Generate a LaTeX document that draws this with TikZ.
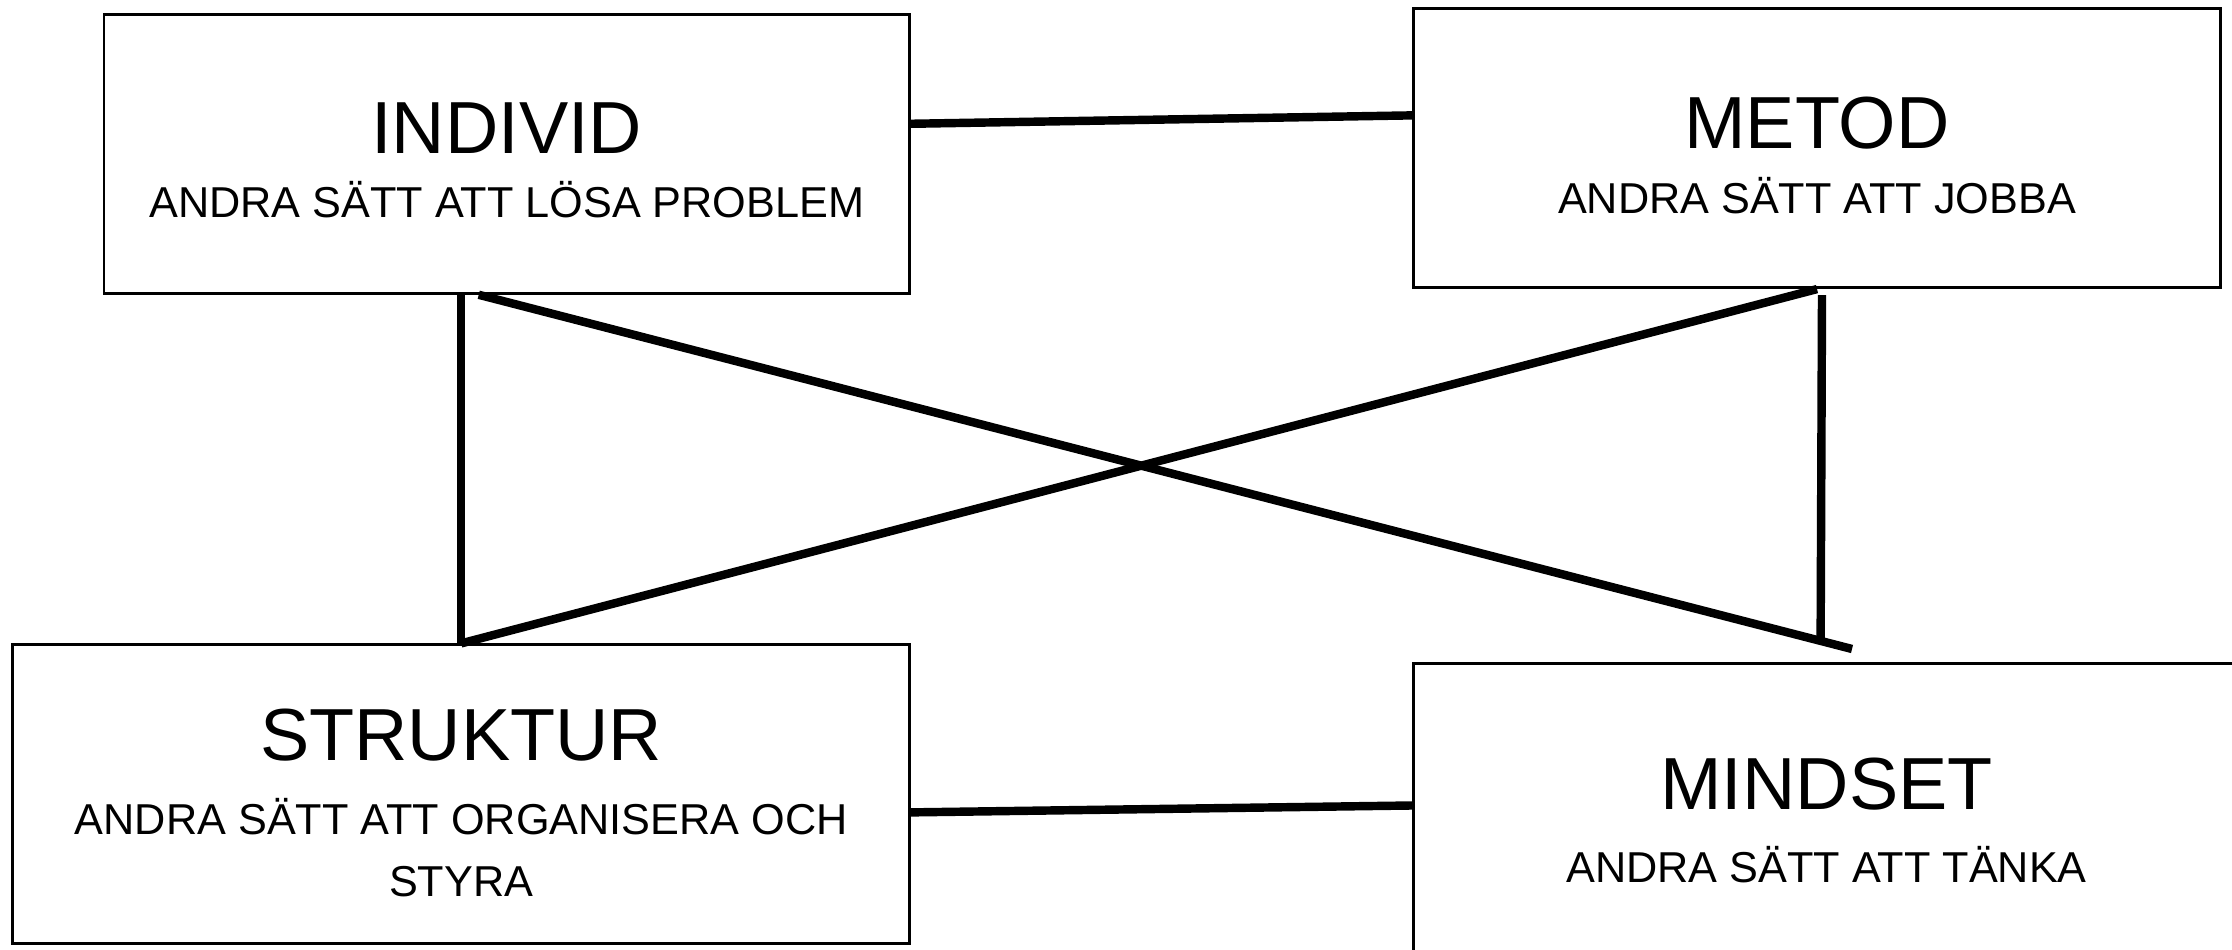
\documentclass[tikz,border=0pt]{standalone}
\usepackage{fontspec}
\setmainfont{Liberation Sans}
\usetikzlibrary{calc}
\begin{document}
\begin{tikzpicture}[line width=0.85pt,
  box/.style={draw, inner sep=0pt, anchor=north west},
  title/.style={anchor=base, font=\fontsize{21}{25}\selectfont},
  sub/.style={anchor=base, font=\fontsize{12.3}{17.8}\selectfont},
  link/.style={line width=2.4pt}]
  \useasboundingbox (0,0) rectangle (22.32,9.5);
  \clip (0,0) rectangle (22.32,9.5);
  % the four boxes
  \node[box, minimum width=8.055cm, minimum height=2.79cm] (individ) at (1.025,9.372) {};
  \node[box, minimum width=8.07cm, minimum height=2.79cm] (metod) at (14.12,9.429) {};
  \node[box, minimum width=8.966cm, minimum height=2.99cm] (struktur) at (0.114,3.066) {};
  \node[box, minimum width=8.26cm, minimum height=3.03cm] (mindset) at (14.12,2.88) {};
  % texts
  \node[title] (individ-t) at (individ.center) {INDIVID};
  \node[sub] (individ-s) at ($(individ.center)+(0,-0.64)$) {ANDRA SÄTT ATT LÖSA PROBLEM};
  \node[title] (metod-t) at (metod.center) {METOD};
  \node[sub] (metod-s) at ($(metod.center)+(0,-0.65)$) {ANDRA SÄTT ATT JOBBA};
  \node[title] (struktur-t) at ($(struktur.center)+(0,0.34)$) {STRUKTUR};
  \node[sub] (struktur-s) at ($(struktur.center)+(0,-0.398)$) {ANDRA SÄTT ATT ORGANISERA OCH};
  \node[sub] (struktur-s2) at ($(struktur.center)+(0,-1.021)$) {STYRA};
  \node[title] (mindset-t) at ($(mindset.center)+(0,0.05)$) {MINDSET};
  \node[sub] (mindset-s) at ($(mindset.center)+(0,-0.675)$) {ANDRA SÄTT ATT TÄNKA};
  % connectors
  \coordinate (cross-end) at (18.52,3.01);
  \coordinate (metod-drop) at (18.206,3.094);
  \draw[link] ([yshift=3mm]individ.east) -- ([yshift=3.27mm]metod.west);
  \draw[link] ([yshift=-1.8mm]struktur.east) -- ([yshift=0.95mm]mindset.west);
  \draw[link] (individ.south -| struktur.north) -- (struktur.north);
  \draw[link] (metod.south) -- (struktur.north);
  \draw[link] ([xshift=-2.8mm]individ.south) -- (cross-end);
  \draw[link] ([xshift=0.5mm,yshift=-0.6mm]metod.south) -- (metod-drop);
\end{tikzpicture}
\end{document}
